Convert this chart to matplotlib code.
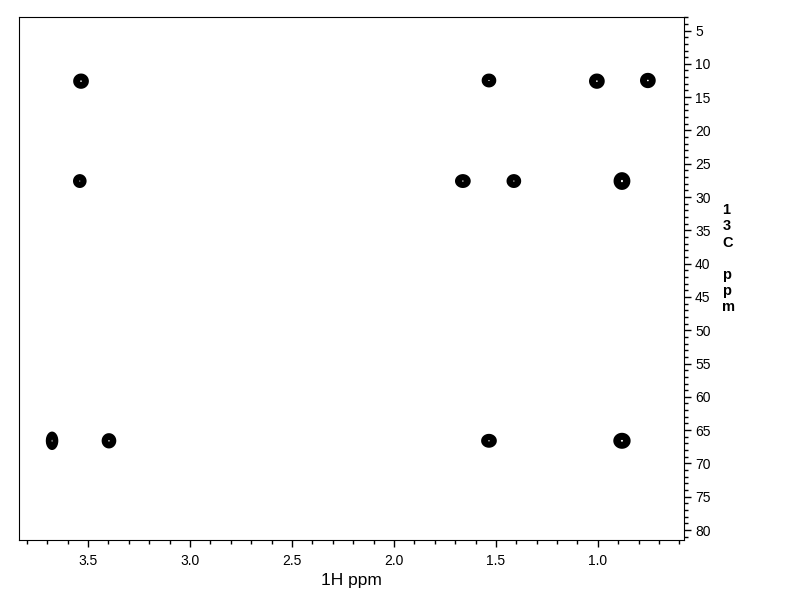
import numpy as np
import matplotlib
matplotlib.use('Agg')
import matplotlib.pyplot as plt
from matplotlib.ticker import MultipleLocator, FormatStrFormatter

## Cross peak positions (1H ppm, 13C ppm).
h_ppm = [3.534, 1.534, 1.005, 0.755,
         3.540, 1.662, 1.412, 0.882,
         3.676, 3.397, 1.534, 0.882]
c_ppm = [12.6, 12.5, 12.6, 12.5,
         27.6, 27.6, 27.6, 27.6,
         66.6, 66.6, 66.6, 66.6]
## Approximate half widths of each peak in ppm.
h_width = [0.025, 0.023, 0.025, 0.025,
           0.021, 0.025, 0.023, 0.027,
           0.019, 0.023, 0.025, 0.028]
c_width = [0.74, 0.66, 0.74, 0.74,
           0.66, 0.66, 0.66, 0.88,
           0.92, 0.74, 0.66, 0.78]

x_range = (3.838, 0.578)
y_range = (2.97, 81.5)

plt.rcParams['font.family'] = ['Liberation Sans', 'DejaVu Sans']

fig = plt.figure(figsize=(7.92, 6.12), dpi=100)
ax = fig.add_axes([0.024, 0.1176, 0.8396, 0.8546])

## Build the 2D intensity map from the peak list and draw it as contours.
xs = np.linspace(0.5, 3.9, 1400)
ys = np.linspace(0, 85, 900)
X, Y = np.meshgrid(xs, ys)
Z = np.zeros_like(X)
for hx, cy, wx, wy in zip(h_ppm, c_ppm, h_width, c_width):
  Z += np.exp(-(((X - hx) / wx) ** 2 + ((Y - cy) / wy) ** 2) ** 1.5)
ax.contour(X, Y, Z, levels=[0.1, 0.22, 0.34, 0.46, 0.58, 0.7, 0.82, 0.94],
           colors='black', linewidths=1.6)

ax.set_xlim(*x_range)
ax.set_ylim(y_range[1], y_range[0])

ax.yaxis.tick_right()
ax.xaxis.set_major_locator(MultipleLocator(0.5))
ax.xaxis.set_minor_locator(MultipleLocator(0.1))
ax.yaxis.set_major_locator(MultipleLocator(5))
ax.yaxis.set_minor_locator(MultipleLocator(1))
ax.tick_params(axis='both', which='major', direction='out', length=5,
               width=1, labelsize=10)
ax.tick_params(axis='both', which='minor', direction='out', length=3, width=1)
ax.tick_params(axis='x', pad=5)
ax.tick_params(axis='y', pad=3)
ax.xaxis.set_major_formatter(FormatStrFormatter('%.1f'))

ax.set_xlabel('1H ppm', fontsize=12.5, labelpad=4)
fig.text(0.912, 0.668, '1\n3\nC\n\np\np\nm', fontsize=10.5, fontweight='bold',
         ha='left', va='top', linespacing=1.2)

fig.savefig('out.png', dpi=100)
